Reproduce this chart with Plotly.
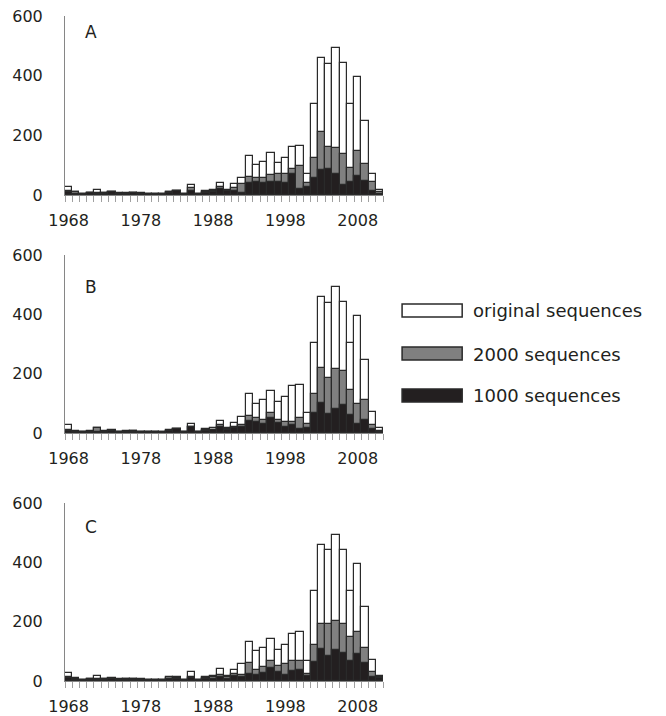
import plotly.graph_objects as go

years = list(range(1968, 2012))

original = [28, 9, 5, 8, 17, 8, 10, 6, 8, 8, 6, 5, 5, 3, 10, 14, 5, 32, 5, 14,
            18, 41, 18, 36, 56, 131, 100, 112, 142, 106, 123, 160, 164, 69, 305, 459,
            440, 493, 441, 304, 396, 248, 70, 17]

a_2000 = [12, 9, 5, 7, 7, 8, 9, 5, 5, 8, 5, 4, 4, 3, 9, 14, 5, 22, 5, 10,
          12, 26, 14, 24, 38, 59, 56, 58, 67, 69, 70, 88, 98, 39, 123, 210,
          162, 156, 139, 89, 148, 103, 42, 10]
a_1000 = [10, 5, 4, 6, 5, 5, 10, 4, 5, 8, 5, 4, 4, 2, 6, 14, 4, 15, 4, 8,
          10, 20, 12, 12, 8, 39, 44, 40, 45, 45, 41, 70, 19, 28, 56, 84,
          86, 69, 35, 45, 65, 48, 13, 5]

b_2000 = [10, 6, 4, 6, 17, 6, 8, 5, 6, 8, 5, 4, 4, 3, 8, 14, 5, 22, 5, 10,
          12, 28, 14, 20, 28, 58, 50, 45, 69, 45, 39, 37, 50, 31, 132, 219,
          187, 215, 210, 146, 99, 112, 28, 8]
b_1000 = [8, 5, 3, 5, 5, 5, 8, 4, 5, 6, 4, 3, 4, 2, 7, 14, 4, 20, 4, 8,
          10, 22, 12, 17, 20, 42, 39, 32, 50, 34, 22, 28, 14, 17, 69, 101,
          64, 82, 95, 62, 30, 45, 14, 5]

c_2000 = [12, 8, 4, 6, 8, 6, 7, 5, 6, 7, 5, 4, 4, 3, 15, 10, 5, 12, 5, 10,
          12, 20, 15, 24, 21, 61, 38, 47, 66, 52, 58, 68, 68, 22, 122, 193,
          193, 201, 192, 150, 164, 111, 29, 15]
c_1000 = [10, 5, 3, 4, 5, 5, 6, 4, 4, 5, 4, 3, 3, 2, 6, 8, 4, 10, 4, 6,
          8, 12, 8, 16, 15, 24, 21, 27, 44, 32, 19, 35, 36, 18, 64, 108,
          83, 103, 96, 68, 91, 61, 14, 10]

panel_labels = ["A", "B", "C"]
series_names = ["original sequences", "2000 sequences", "1000 sequences"]
tick_years = [1968, 1978, 1988, 1998, 2008]
y_ticks = [0, 200, 400, 600]

colors = ["#ffffff", "#808080", "#231f20"]
edge = "#2a2a2a"
font_fam = "DejaVu Sans"
txt = "#231f20"

x_centers = [y + 0.5 for y in years]
panels = [(original, a_2000, a_1000), (original, b_2000, b_1000), (original, c_2000, c_1000)]

fig = go.Figure()
for p, series in enumerate(panels):
    xa = "x" if p == 0 else f"x{p+1}"
    ya = "y" if p == 0 else f"y{p+1}"
    for s, vals in enumerate(series):
        fig.add_trace(go.Bar(
            x=x_centers, y=vals, width=1.0, name=series_names[s],
            marker=dict(color=colors[s], line=dict(color=edge, width=1.2)),
            xaxis=xa, yaxis=ya, showlegend=False,
        ))

domains = [[0.7308, 1.0], [0.3725, 0.6406], [0.0, 0.2677]]
label_pos = [t + 0.5 for t in tick_years]

layout = dict(
    width=666, height=716,
    margin=dict(l=65, r=283, t=16, b=35, autoexpand=False),
    paper_bgcolor="white", plot_bgcolor="white",
    barmode="overlay", bargap=0,
    font=dict(family=font_fam, size=16, color=txt),
    showlegend=False,
)
for p in range(3):
    xk = "xaxis" if p == 0 else f"xaxis{p+1}"
    yk = "yaxis" if p == 0 else f"yaxis{p+1}"
    yanchor = "y" if p == 0 else f"y{p+1}"
    xanchor = "x" if p == 0 else f"x{p+1}"
    layout[xk] = dict(
        domain=[0, 1], anchor=yanchor, range=[1968, 2012],
        tickmode="array", tickvals=label_pos, ticktext=[str(t) for t in tick_years],
        ticks="",
        minor=dict(tick0=1968, dtick=1, ticks="outside", ticklen=6,
                   tickwidth=1, tickcolor="#a0a0a0", showgrid=False),
        showline=True, linecolor="#868686", linewidth=1,
        showgrid=False, zeroline=False, automargin=False,
        tickfont=dict(family=font_fam, size=16, color=txt),
        ticklabelstandoff=11,
    )
    layout[yk] = dict(
        domain=domains[p], anchor=xanchor, range=[0, 600],
        tickmode="array", tickvals=y_ticks,
        ticks="", showline=True, linecolor="#868686", linewidth=1,
        showgrid=False, zeroline=False, automargin=False,
        tickfont=dict(family=font_fam, size=16, color=txt),
        ticklabelstandoff=18,
    )
fig.update_layout(**layout)

# panel letters
letter_pos = [0.976, 0.593, 0.2316]
for p, lab in enumerate(panel_labels):
    fig.add_annotation(x=0.0818, y=letter_pos[p], xref="paper", yref="paper",
                       text=lab, showarrow=False, xanchor="center", yanchor="middle",
                       font=dict(family=font_fam, size=17, color=txt))

# manual legend
sw_y = [(0.5474, 0.5669), (0.4827, 0.5023), (0.4195, 0.4391)]
txt_y = [0.5564, 0.4917, 0.4286]
for i, name in enumerate(series_names):
    fig.add_shape(type="rect", xref="paper", yref="paper",
                  x0=1.060, x1=1.249, y0=sw_y[i][0], y1=sw_y[i][1],
                  fillcolor=colors[i], line=dict(color=edge, width=1.5))
    fig.add_annotation(x=1.278, y=txt_y[i], xref="paper", yref="paper",
                       text=name, showarrow=False, xanchor="left", yanchor="middle",
                       font=dict(family=font_fam, size=18, color=txt))

fig.write_html("out.html",
               config={"displayModeBar": False},
               post_script="document.body.style.margin='0';document.body.style.overflow='hidden';")
